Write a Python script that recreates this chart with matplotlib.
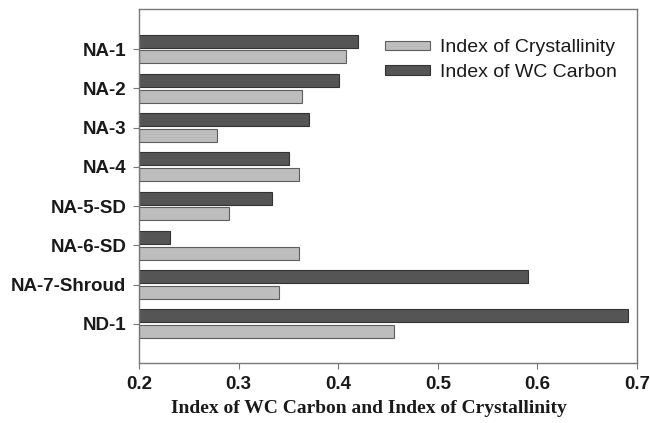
import matplotlib.pyplot as plt
import numpy as np

samples = ['NA-1', 'NA-2', 'NA-3', 'NA-4', 'NA-5-SD', 'NA-6-SD', 'NA-7-Shroud', 'ND-1']
crystallinity = [0.408, 0.364, 0.278, 0.361, 0.290, 0.361, 0.341, 0.456]
wc_carbon = [0.420, 0.401, 0.371, 0.351, 0.334, 0.231, 0.591, 0.691]
xticks = [0.2, 0.3, 0.4, 0.5, 0.6, 0.7]

fig = plt.figure(figsize=(6.5, 4.23), dpi=100)
ax = fig.add_axes([139 / 650, 1 - 363 / 423, (637 - 139) / 650, (363 - 9) / 423])

y = np.arange(len(samples))
h = 0.33
base = 0.2
ax.barh(y + 0.2, np.array(crystallinity) - base, left=base, height=h,
        color='#bdbdbd', edgecolor='#5e5e5e', linewidth=0.8, label='Index of Crystallinity')
ax.barh(y - 0.2, np.array(wc_carbon) - base, left=base, height=h,
        color='#555555', edgecolor='#333333', linewidth=0.8, label='Index of WC Carbon')

ax.set_xlim(0.2, 0.7)
ax.set_ylim(len(samples), -1.02)
ax.set_xticks(xticks)
ax.set_xticklabels([f'{v:.1f}' for v in xticks], fontsize=13.5, fontweight='bold',
                   family='Liberation Sans', color='#1a1a1a')
ax.set_yticks(y)
ax.set_yticklabels(samples, fontsize=13.5, fontweight='bold',
                   family='Liberation Sans', color='#1a1a1a')
ax.tick_params(axis='both', direction='out', length=4, color='#777777', width=0.8)
ax.tick_params(axis='x', pad=5)
ax.tick_params(axis='y', pad=5)
for s in ax.spines.values():
    s.set_color('#777777')
    s.set_linewidth(1.0)

ax.set_xlabel('Index of WC Carbon and Index of Crystallinity', fontsize=14,
              fontweight='bold', family='Liberation Serif', color='#1a1a1a')
ax.xaxis.set_label_coords(0.462, -0.105)

leg = ax.legend(loc='upper left', bbox_to_anchor=(0.494, 0.914), frameon=False,
                prop={'family': 'Liberation Sans', 'size': 14},
                borderpad=0, borderaxespad=0,
                handlelength=2.3, handleheight=0.4, handletextpad=0.55, labelspacing=0.4)
for t in leg.get_texts():
    t.set_color('#1a1a1a')

fig.savefig('out.png', dpi=100)
